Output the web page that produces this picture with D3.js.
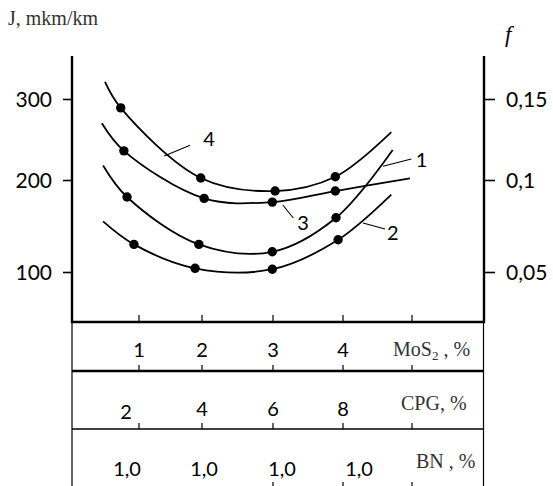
<!DOCTYPE html>
<html><head><meta charset="utf-8">
<script src="https://cdn.jsdelivr.net/npm/d3@7"></script>
<style>
html,body{margin:0;padding:0;background:#fff;}
svg{display:block;}
.num{font-family:Lato,"Open Sans",sans-serif;font-size:21px;fill:#000;}
.ser{font-family:"Liberation Serif","DejaVu Serif",serif;fill:#333;}
</style></head>
<body>
<svg id="chart" width="553" height="486"></svg>
<script>
// ---- data ----
const xTicks = [1, 2, 3, 4, 5];
const jTicks = [100, 200, 300];
const fTicks = [0.05, 0.1, 0.15];
const mos2Labels = ["1", "2", "3", "4"];
const cpgLabels = ["2", "4", "6", "8"];
const bnLabels = ["1,0", "1,0", "1,0", "1,0"];

// curve traces (MoS2 %, J) and measured points
const curve4Line = [[0.46,321],[0.71,289],[1.98,202.5],[3.03,188],[3.89,204],[4.70,259]];
const curve4Dots = [[0.71,289],[1.98,202.5],[3.03,188],[3.89,204]];
const curve3Line = [[0.41,270],[0.76,236],[2.03,180],[2.99,176],[3.89,188],[4.97,202]];
const curve3Dots = [[0.76,236],[2.03,180],[2.99,176],[3.89,188]];
const curve1Line = [[0.43,218],[0.81,181.5],[1.95,130],[2.99,122],[3.90,159],[4.72,237]];
const curve1Dots = [[0.81,181.5],[1.95,130],[2.99,122],[3.90,159]];
const curve2Line = [[0.43,155],[0.92,130],[1.89,104],[2.99,103],[3.93,135],[4.70,184]];
const curve2Dots = [[0.92,130],[1.89,104],[2.99,103],[3.93,135]];

const curveLabels = [
  {t:"4", x:2.10, y:242,   lx1:1.81, ly1:243,   lx2:1.40, ly2:229.6},
  {t:"1", x:5.14, y:216,   lx1:4.99, ly1:226,   lx2:4.58, ly2:217},
  {t:"3", x:3.43, y:145.6, lx1:3.29, ly1:158.7, lx2:3.14, ly2:172.8},
  {t:"2", x:4.72, y:134.8, lx1:4.61, ly1:146.7, lx2:4.29, ly2:153.3}
];

// ---- layout ----
const L = 72, R = 484, T = 56, B = 322;
const row1B = 371, row2B = 429, row3B = 488;

const svg = d3.select("#chart");
const x = d3.scaleLinear().domain(xTicks).range([139, 202, 273, 343, 412]);
const y = d3.scaleLinear().domain(jTicks).range([272, 180, 99]);
const yf = d3.scaleLinear().domain(fTicks).range([272, 180, 99]);

// axes
const axL = svg.append("g").attr("transform", `translate(${L},0)`)
  .call(d3.axisLeft(y).tickValues(jTicks).tickSize(9).tickPadding(11).tickSizeOuter(0));
const axR = svg.append("g").attr("transform", `translate(${R},0)`)
  .call(d3.axisRight(yf).tickValues(fTicks).tickSize(11).tickPadding(11).tickSizeOuter(0)
    .tickFormat(d => String(d).replace(".", ",")));
[axL, axR].forEach(a => {
  a.select(".domain").remove();
  a.selectAll(".tick line").attr("stroke", "#000").attr("stroke-width", 1.6);
  a.selectAll(".tick text").attr("class", "num").attr("font-size", null).attr("font-family", null).attr("dy", "0.36em");
});

// frame lines
const line = (x1, y1, x2, y2, w) => svg.append("line")
  .attr("x1", x1).attr("y1", y1).attr("x2", x2).attr("y2", y2)
  .attr("stroke", "#000").attr("stroke-width", w);
line(L, T, L, B + 1, 2.4);
line(R, T, R, B + 1, 2.4);
line(L - 1, B, R + 1, B, 2.6);
line(L, B, L, 486, 1.2);
line(R - 0.5, B, R - 0.5, 486, 1.2);
line(L, row1B, R, row1B, 2.4);
line(L, row2B, R, row2B, 1.6);
line(L, row3B, R, row3B, 1.6);

// ticks on plot bottom and table rows
const tickRow = (yb, len) => svg.append("g").selectAll("line").data(xTicks).join("line")
  .attr("x1", d => x(d)).attr("x2", d => x(d))
  .attr("y1", yb).attr("y2", yb - len)
  .attr("stroke", "#000").attr("stroke-width", 1.2);
tickRow(B, 7);
tickRow(row1B, 6);
tickRow(row2B, 6);
svg.append("g").selectAll("line").data(xTicks.slice(2)).join("line")
  .attr("x1", d => x(d)).attr("x2", d => x(d))
  .attr("y1", row3B).attr("y2", row3B - 6)
  .attr("stroke", "#000").attr("stroke-width", 1.2);

// curves
const gen = d3.line().x(d => x(d[0])).y(d => y(d[1])).curve(d3.curveCatmullRom.alpha(0.5));
const curves = [[curve4Line, curve4Dots], [curve3Line, curve3Dots], [curve1Line, curve1Dots], [curve2Line, curve2Dots]];
curves.forEach(([ln, dots]) => {
  svg.append("path").attr("d", gen(ln)).attr("fill", "none").attr("stroke", "#000").attr("stroke-width", 1.8);
  svg.append("g").selectAll("circle").data(dots).join("circle")
    .attr("cx", d => x(d[0])).attr("cy", d => y(d[1])).attr("r", 4.7).attr("fill", "#000");
});

// curve labels
curveLabels.forEach(c => {
  svg.append("line").attr("x1", x(c.lx1)).attr("y1", y(c.ly1)).attr("x2", x(c.lx2)).attr("y2", y(c.ly2))
    .attr("stroke", "#000").attr("stroke-width", 1.1);
  svg.append("text").attr("class", "num").attr("x", x(c.x)).attr("y", y(c.y))
    .attr("text-anchor", "middle").style("font-size", "20px").text(c.t);
});

// axis titles
svg.append("text").attr("class", "ser").attr("x", 8).attr("y", 25).style("font-size", "20px").text("J, mkm/km");
svg.append("text").attr("class", "ser").attr("x", 505).attr("y", 42)
  .style("font-size", "23px").style("font-style", "italic").style("fill", "#000").text("f");

// table labels
svg.append("g").selectAll("text").data(mos2Labels).join("text").attr("class", "num")
  .attr("x", (d, i) => x(i + 1)).attr("y", 357).attr("text-anchor", "middle").style("font-size", "20px").text(d => d);
const cpgX = [126, 202, 273, 344];
svg.append("g").selectAll("text").data(cpgLabels).join("text").attr("class", "num")
  .attr("x", (d, i) => i === 0 ? cpgX[0] : x(i + 1)).attr("y", (d, i) => i === 0 ? 419 : 416)
  .attr("text-anchor", "middle").style("font-size", "20px").text(d => d);
const bnOff = [-12, 2, 9, 16];
svg.append("g").selectAll("text").data(bnLabels).join("text").attr("class", "num")
  .attr("x", (d, i) => x(i + 1) + bnOff[i]).attr("y", 476).attr("text-anchor", "middle").style("font-size", "20px").text(d => d);

const mos = svg.append("text").attr("class", "ser").attr("x", 393).attr("y", 356).style("font-size", "20px");
mos.append("tspan").text("MoS");
mos.append("tspan").attr("dy", 4).style("font-size", "13px").text("2");
mos.append("tspan").attr("dy", -4).text(" , %");
svg.append("text").attr("class", "ser").attr("x", 401).attr("y", 410).style("font-size", "20px").text("CPG, %");
svg.append("text").attr("class", "ser").attr("x", 416).attr("y", 468).style("font-size", "20px").text("BN , %");
</script>
</body></html>
